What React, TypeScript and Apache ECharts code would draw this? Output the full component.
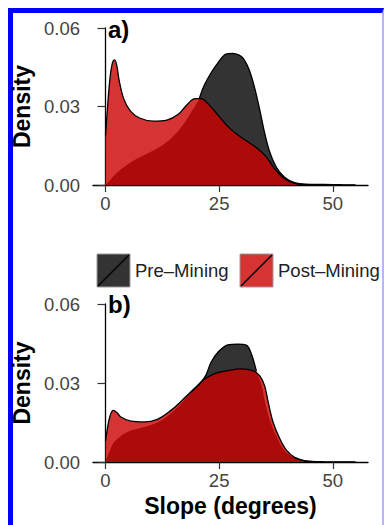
import React, { useEffect, useRef } from "react";
import * as echarts from "echarts";

// Panel a) pre-mining slope density
const slopeA_pre = [0, 1, 2, 4, 7, 10, 13, 15, 17, 19, 20.6, 21.7, 23.2, 24.7, 26.5, 28.0, 29.3, 30.3, 31.5, 32.6, 33.9, 35.0, 36.1, 37.6, 39.4, 41.6, 44, 48, 52, 55];
const densA_pre = [0, 0.0018, 0.0038, 0.0068, 0.0101, 0.0127, 0.0158, 0.0188, 0.0228, 0.0283, 0.0329, 0.038, 0.0428, 0.0466, 0.05, 0.0503, 0.0497, 0.0484, 0.0445, 0.0385, 0.029, 0.02, 0.0128, 0.0068, 0.003, 0.0009, 0.0003, 0.0002, 0.0001, 0.00005];
// Panel a) post-mining
const slopeA_post = [0, 0.5, 1.0, 1.5, 2.0, 2.5, 3.0, 4.0, 5.5, 7.5, 10.5, 13.5, 16.0, 18.0, 19.7, 21.0, 22.7, 24.7, 27.0, 29.2, 31.4, 33.5, 35.4, 37.2, 39.4, 41.6, 44, 47];
const densA_post = [0.019, 0.031, 0.041, 0.0465, 0.0478, 0.0455, 0.04, 0.033, 0.0282, 0.0256, 0.0244, 0.0248, 0.027, 0.0308, 0.033, 0.033, 0.0308, 0.0268, 0.0222, 0.019, 0.0164, 0.0139, 0.0107, 0.0062, 0.0024, 0.0006, 0.0001, 0.00005];
// Panel b) pre-mining
const slopeB_pre = [0, 1, 2, 4.8, 8.5, 12.3, 15.9, 18.8, 21.0, 22.1, 23.2, 24.7, 26.9, 29.1, 31.0, 32.1, 33.2, 34.3, 35.0, 36.1, 37.6, 39.4, 41.6, 44.5, 48, 55];
const densB_pre = [0, 0.0045, 0.0078, 0.0114, 0.0133, 0.0158, 0.0209, 0.0265, 0.0303, 0.033, 0.0378, 0.0416, 0.0445, 0.0448, 0.0444, 0.041, 0.0345, 0.0295, 0.0235, 0.0162, 0.0098, 0.0044, 0.0017, 0.0003, 0.0001, 0.00005];
// Panel b) post-mining
const slopeB_post = [0, 0.5, 1.0, 1.7, 2.5, 3.3, 5.6, 8.5, 11.4, 14.4, 16.6, 19.5, 21.7, 23.9, 26.9, 29.8, 32.4, 33.9, 35.0, 35.7, 36.8, 38.3, 39.8, 41.6, 43.8, 46];
const densB_post = [0.008, 0.0135, 0.0175, 0.0196, 0.0188, 0.0172, 0.0155, 0.0152, 0.0162, 0.0196, 0.023, 0.0278, 0.0313, 0.0335, 0.0347, 0.0354, 0.0347, 0.0328, 0.029, 0.0235, 0.0155, 0.009, 0.0045, 0.0018, 0.0004, 0.0001];

const xTicks = [0, 25, 50];
const panelLabels = ["a)", "b)"];
const legendNames = ["Pre–Mining", "Post–Mining"];
const xTitle = "Slope (degrees)";
const yTitle = "Density";

const FONT = "'Liberation Sans', Arial, Helvetica, sans-serif";
const PRE_FILL = "#333333";
const POST_FILL = "rgba(204,0,0,0.8)";
const POST_KEY = "#d63333";

const pairs = (xs: number[], ys: number[]) => xs.map((x, i) => [x, ys[i]]);

function interp(xs: number[], ys: number[], x: number) {
  if (x <= xs[0]) return ys[0];
  if (x >= xs[xs.length - 1]) return 0;
  for (let i = 1; i < xs.length; i++) {
    if (x <= xs[i]) {
      const t = (x - xs[i - 1]) / (xs[i] - xs[i - 1]);
      return ys[i - 1] + t * (ys[i] - ys[i - 1]);
    }
  }
  return 0;
}

// pre-mining outline only where it is not hidden below the post-mining curve
function visibleOutline(px: number[], py: number[], qx: number[], qy: number[]) {
  return px.map((x, i) => [x, py[i] >= interp(qx, qy, x) - 0.0004 ? py[i] : "-"]);
}

export default function App() {
  const ref = useRef<HTMLDivElement>(null);
  useEffect(() => {
    if (!ref.current) return;
    const chart = echarts.init(ref.current, undefined, { renderer: "svg" });
    const grids = [
      { left: 93, top: 28, width: 275, height: 157 },
      { left: 93, top: 304, width: 275, height: 158 },
    ];
    const xAxis = grids.map((_, i) => ({
      type: "value",
      gridIndex: i,
      min: -2.75,
      max: 57.75,
      axisLine: { show: true, lineStyle: { color: "#000", width: 1.3 } },
      axisTick: { show: true, length: 7, customValues: xTicks, lineStyle: { color: "#333", width: 1.2 } },
      axisLabel: { customValues: xTicks, fontSize: 18.5, color: "#444", margin: 9, fontFamily: FONT },
      splitLine: { show: false },
      name: i === 1 ? xTitle : "",
      nameLocation: "middle",
      nameGap: 32,
      nameTextStyle: { fontSize: 23, fontWeight: "bold", color: "#000", fontFamily: FONT },
    }));
    const yAxis = grids.map((_, i) => ({
      type: "value",
      gridIndex: i,
      min: 0,
      max: 0.06,
      interval: 0.03,
      axisLine: { show: true, lineStyle: { color: "#000", width: 1.3 } },
      axisTick: { show: true, length: 8, lineStyle: { color: "#333", width: 1.2 } },
      axisLabel: { fontSize: 18.5, color: "#444", margin: 13, fontFamily: FONT, formatter: (v: number) => v.toFixed(2) },
      splitLine: { show: false },
      name: yTitle,
      nameLocation: "middle",
      nameGap: 51,
      nameRotate: 90,
      nameTextStyle: { fontSize: 23, fontWeight: "bold", color: "#000", fontFamily: FONT },
    }));
    const area = (name: string, data: any[], idx: number, fill: string, outline: boolean) => ({
      type: "line",
      name,
      xAxisIndex: idx,
      yAxisIndex: idx,
      data,
      smooth: 0.35,
      symbol: "none",
      lineStyle: outline ? { color: "#000", width: 1.3 } : { width: 0, opacity: 0 },
      areaStyle: { color: fill, opacity: 1 },
      silent: true,
    });
    const outlineOnly = (name: string, data: any[], idx: number) => ({
      type: "line",
      name,
      xAxisIndex: idx,
      yAxisIndex: idx,
      data,
      smooth: 0.35,
      symbol: "none",
      connectNulls: false,
      lineStyle: { color: "#000", width: 1.3 },
      silent: true,
    });
    const series = [
      area(legendNames[0], pairs(slopeA_pre, densA_pre), 0, PRE_FILL, false),
      area(legendNames[1], pairs(slopeA_post, densA_post), 0, POST_FILL, true),
      outlineOnly(legendNames[0], visibleOutline(slopeA_pre, densA_pre, slopeA_post, densA_post), 0),
      area(legendNames[0], pairs(slopeB_pre, densB_pre), 1, PRE_FILL, false),
      area(legendNames[1], pairs(slopeB_post, densB_post), 1, POST_FILL, true),
      outlineOnly(legendNames[0], visibleOutline(slopeB_pre, densB_pre, slopeB_post, densB_post), 1),
    ];
    const keyY = 254;
    const keySize = 33;
    const legendItems = [
      { x: 97, fill: PRE_FILL, textX: 135 },
      { x: 240, fill: POST_KEY, textX: 278 },
    ];
    const graphic: any[] = [];
    legendItems.forEach((it, i) => {
      graphic.push({
        type: "rect",
        shape: { x: it.x, y: keyY, width: keySize, height: keySize },
        style: { fill: it.fill, stroke: "#9a9a9a", lineWidth: 1 },
      });
      graphic.push({
        type: "line",
        shape: { x1: it.x + 1, y1: keyY + keySize - 1, x2: it.x + keySize - 1, y2: keyY + 1 },
        style: { stroke: "#000", lineWidth: 1.5 },
      });
      graphic.push({
        type: "text",
        x: it.textX,
        y: keyY + keySize / 2,
        style: { text: legendNames[i], fontSize: 18.5, fill: "#222", fontFamily: FONT, verticalAlign: "middle", align: "left" },
      });
    });
    panelLabels.forEach((t, i) => {
      graphic.push({
        type: "text",
        x: 108,
        y: i === 0 ? 29 : 304,
        style: { text: t, fontSize: 24, fontWeight: "bold", fill: "#000", fontFamily: FONT, verticalAlign: "middle", align: "left" },
      });
    });
    chart.setOption({
      animation: false,
      textStyle: { fontFamily: FONT },
      grid: grids,
      xAxis,
      yAxis,
      series,
      graphic,
    } as any);
    return () => chart.dispose();
  }, []);
  return (
    <>
      <div
        style={{
          position: "fixed",
          left: 8,
          top: 8,
          width: 369,
          height: 530,
          borderTop: "5px solid #0000ff",
          borderLeft: "5px solid #0000ff",
          borderRight: "2px solid #b4b4ff",
          background: "#fff",
          zIndex: 0,
        }}
      />
      <div ref={ref} style={{ position: "fixed", left: 0, top: 0, width: 385, height: 525, zIndex: 1 }} />
    </>
  );
}
